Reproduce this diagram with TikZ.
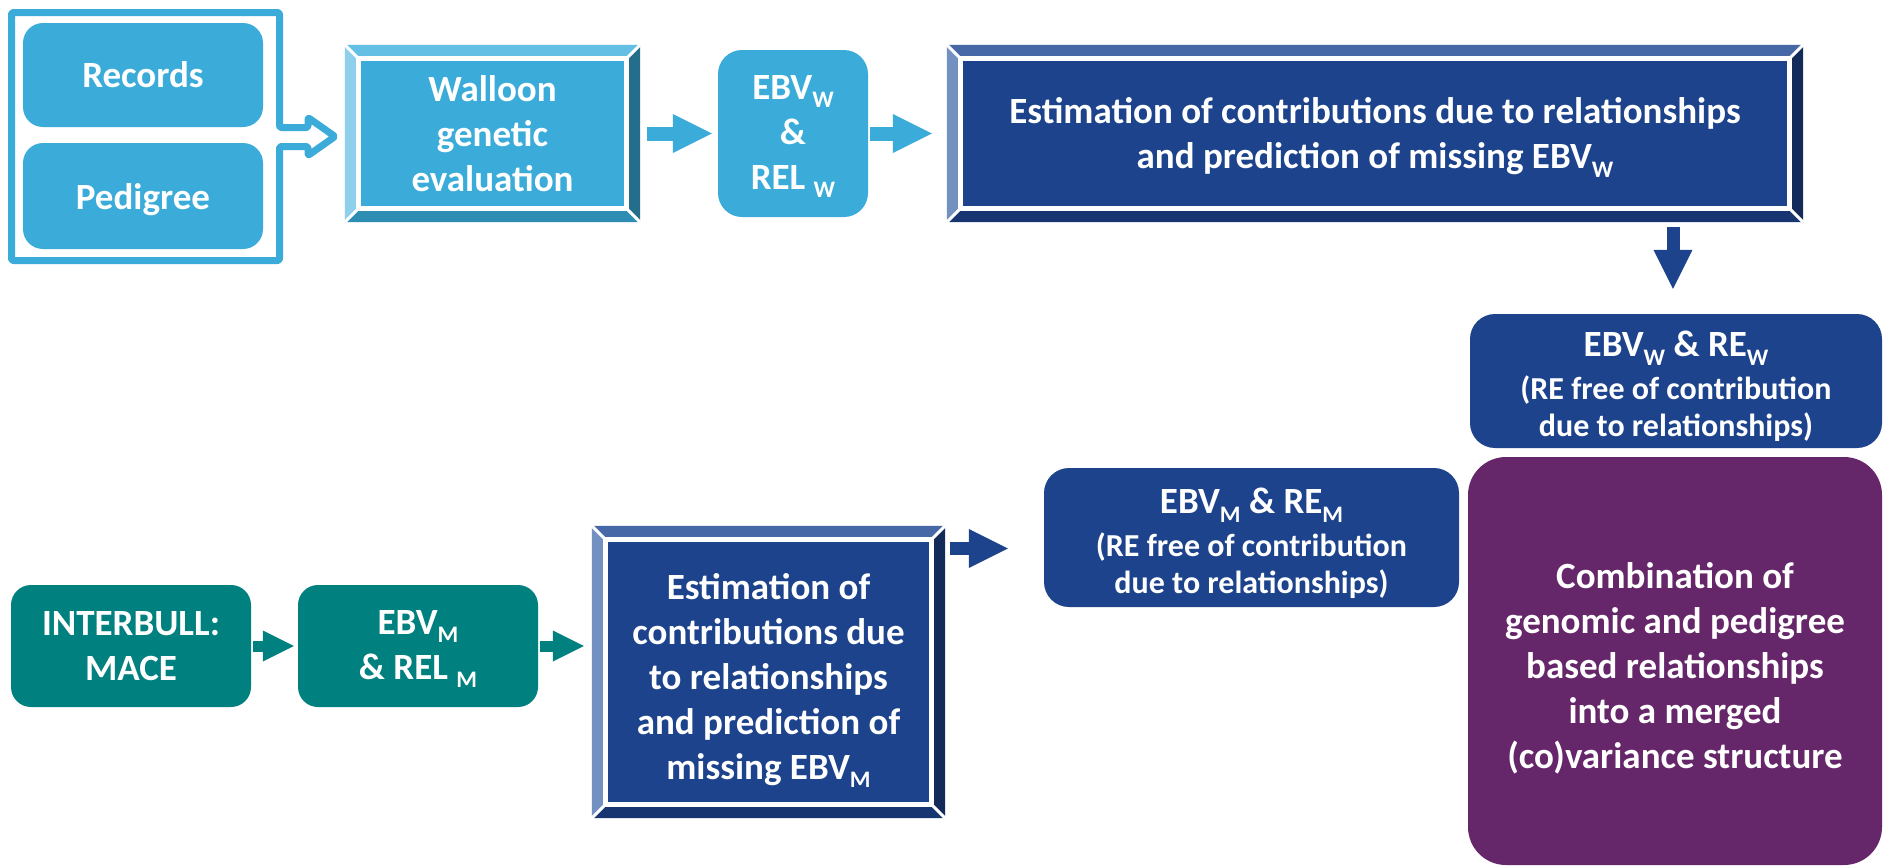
\documentclass[tikz,border=0pt]{standalone}
\usepackage{graphicx}
\usepackage{fontspec}
\setmainfont{Carlito}
\usetikzlibrary{arrows.meta,calc}
\pgfdeclarelayer{background}
\pgfsetlayers{background,main}
\definecolor{lblue}{HTML}{3BACD9}
\definecolor{teal}{HTML}{00807E}
\definecolor{dblue}{HTML}{1C438B}
\definecolor{purp}{HTML}{66266A}
\definecolor{dtop}{HTML}{4668A6}
\definecolor{dleft}{HTML}{7391C0}
\definecolor{dright}{HTML}{132B58}
\definecolor{dbot}{HTML}{173671}
\definecolor{ltop}{HTML}{64BFE4}
\definecolor{lleft}{HTML}{8ECFEB}
\definecolor{lright}{HTML}{246D8B}
\definecolor{lbot}{HTML}{2E8DB3}
\newcommand\sbs[1]{\raisebox{-0.24em}{\scalebox{0.64}{#1}}}
\newcommand\strt[1]{\rule{0pt}{#1}}
\newcommand\bigline[1]{{\fontsize{37}{45}\selectfont #1}}
\newcommand\bevelbox[6]{%
\begin{pgfonlayer}{background}
\path (#1.north west) coordinate (o1) (#1.north east) coordinate (o2)
      (#1.south east) coordinate (o3) (#1.south west) coordinate (o4);
\path ($(o1)+(14,14)$) coordinate (i1) ($(o2)+(-14,14)$) coordinate (i2)
      ($(o3)+(-14,-14)$) coordinate (i3) ($(o4)+(14,-14)$) coordinate (i4);
\fill[#3] (o1) -- (o2) -- (i2) -- (i1) -- cycle;
\fill[#4] (o1) -- (i1) -- (i4) -- (o4) -- cycle;
\fill[#5] (o2) -- (o3) -- (i3) -- (i2) -- cycle;
\fill[#6] (o4) -- (i4) -- (i3) -- (o3) -- cycle;
\fill[#2] (i1) rectangle (i3);
\draw[white, line width=5pt] (i1) rectangle (i3);
\draw[white, line width=3pt] (o1) -- (i1) (o2) -- (i2) (o3) -- (i3) (o4) -- (i4);
\end{pgfonlayer}}
\tikzset{
  txt/.style={rectangle, inner sep=0pt, text=white, align=center,
    font=\bfseries\fontsize{37}{45}\selectfont},
  rbox/.style={txt, rounded corners=#1},
  rbox/.default=20pt,
  smalltxt/.style={font=\bfseries\fontsize{32}{37}\selectfont},
  toparrow/.style={lblue, line width=14pt, -{Triangle[length=39pt,width=39pt,line width=0pt]}},
  tealarrow/.style={teal, line width=11pt, -{Triangle[length=31pt,width=31pt,line width=0pt]}},
  bluearrow/.style={dblue, line width=13pt, -{Triangle[length=39pt,width=39pt,line width=0pt]}},
}
\begin{document}
\begin{tikzpicture}[x=1pt,y=-1pt]
\useasboundingbox (0,0) rectangle (1884,865);
\begin{pgfonlayer}{background}
\fill[white] (0,0) rectangle (1884,865);
\end{pgfonlayer}

% input frame with its arrow
\draw[lblue, line width=7pt, line join=round, rounded corners=2pt]
  (11.5,12.5) -- (279.5,12.5) -- (279.5,127.5) -- (308,127.5) -- (308,117.5)
  -- (335,136.5) -- (308,155.5) -- (308,146.5) -- (279.5,146.5)
  -- (279.5,260.5) -- (11.5,260.5) -- cycle;

\node[rbox, fill=lblue, minimum width=240pt, minimum height=104pt] (rec) at (143,75) {Records};
\node[rbox, fill=lblue, minimum width=240pt, minimum height=106pt] (ped) at (143,196) {\strt{34pt}Pedigree};

\node[txt, minimum width=295pt, minimum height=177pt] (wal) at (492.5,133.5) {Walloon\\genetic\\evaluation};
\bevelbox{wal}{lblue}{ltop}{lleft}{lright}{lbot}

\node[rbox=24pt, fill=lblue, minimum width=150pt, minimum height=167pt] (ebvw) at (793,133.5)
  {\strt{30pt}EBV\sbs{W}\\\&\\REL \sbs{W}};

\node[txt, minimum width=856pt, minimum height=177pt] (bigest) at (1375,133.5)
  {\strt{34pt}Estimation of contributions due to relationships\\and prediction of missing EBV\sbs{W}};
\bevelbox{bigest}{dblue}{dtop}{dleft}{dright}{dbot}

\node[rbox=25pt, fill=dblue, smalltxt, minimum width=412pt, minimum height=134pt] (rew) at (1676,381)
  {\bigline{\strt{36pt}EBV\sbs{W} \& RE\sbs{W}}\\[6pt](RE free of contribution\\due to relationships)};

\node[rbox=38pt, fill=purp, minimum width=414pt, minimum height=408pt] (comb) at (1675,661)
  {\strt{40pt}Combination of\\genomic and pedigree\\based relationships\\into a merged\\(co)variance structure};

\node[rbox=25pt, fill=dblue, smalltxt, minimum width=415pt, minimum height=139pt] (mrem) at (1251.5,537.5)
  {\bigline{\strt{37pt}EBV\sbs{M} \& RE\sbs{M}}\\[6pt](RE free of contribution\\due to relationships)};

\node[txt, minimum width=353pt, minimum height=292pt] (lowest) at (768.5,672)
  {\strt{43pt}Estimation of\\contributions due\\to relationships\\and prediction of\\missing EBV\sbs{M}};
\bevelbox{lowest}{dblue}{dtop}{dleft}{dright}{dbot}

\node[rbox, fill=teal, minimum width=240pt, minimum height=122pt] (ebvm) at (418,646)
  {\strt{30pt}EBV\sbs{M}\\\& REL \sbs{M}};
\node[rbox, fill=teal, minimum width=240pt, minimum height=122pt] (inter) at (131,646)
  {INTERBULL:\\MACE};

% connectors
\draw[toparrow, shorten <=7pt, shorten >=6pt] (wal.east) -- (ebvw.west);
\draw[toparrow, shorten <=2pt, shorten >=15pt] (ebvw.east) -- (bigest.west);
\draw[bluearrow, shorten <=5pt, shorten >=25pt]
  ($(bigest.south -| rew.north)+(-3,0)$) -- ($(rew.north)+(-3,0)$);
\draw[tealarrow, shorten <=2pt, shorten >=4pt] (inter.east) -- (ebvm.west);
\draw[tealarrow, shorten <=2pt, shorten >=8pt] (ebvm.east) -- (ebvm.east -| lowest.west);
\coordinate (ya) at (0,548.5);
\draw[bluearrow, shorten <=5pt, shorten >=36pt] (lowest.east |- ya) -- (mrem.west |- ya);
\end{tikzpicture}
\end{document}
